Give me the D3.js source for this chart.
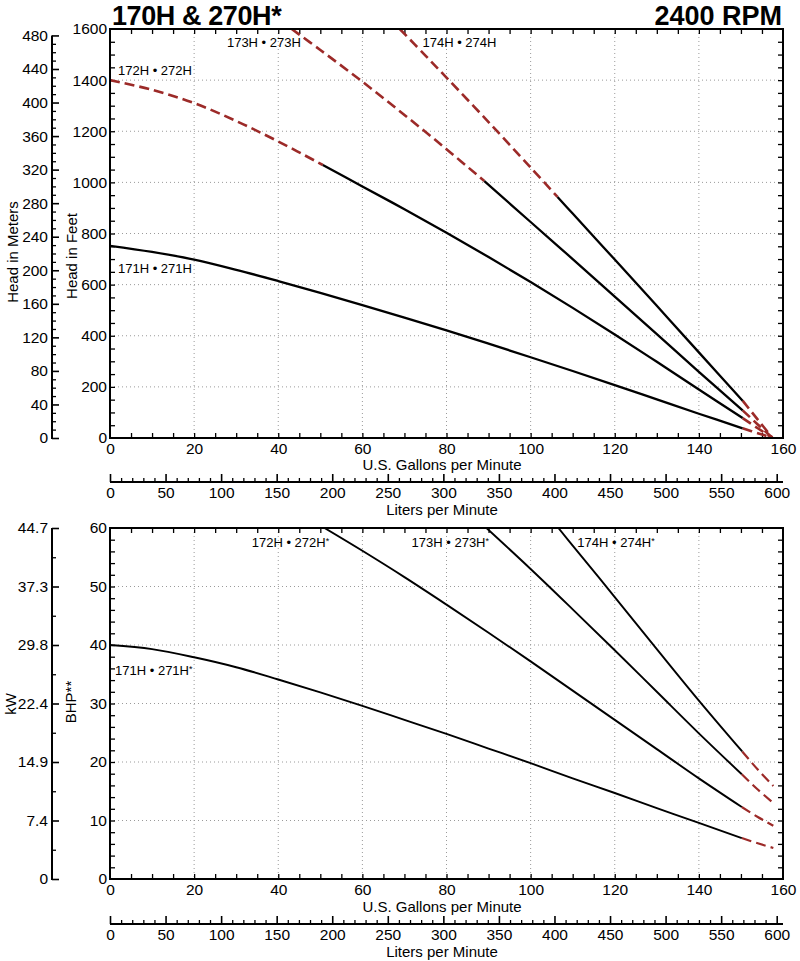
<!DOCTYPE html>
<html><head><meta charset="utf-8">
<script src="https://cdn.jsdelivr.net/npm/d3@7"></script>
<style>
body{margin:0;background:#fff}
svg{display:block}
text{font-family:"Liberation Sans",Arial,Helvetica,sans-serif;fill:#000}
</style>
</head><body>
<svg id="c" width="800" height="961"></svg>
<script>
// ---------- data ----------
const gpmTicks = [0,20,40,60,80,100,120,140,160];
const literTicks = [0,50,100,150,200,250,300,350,400,450,500,550,600];
const feetTicks = [0,200,400,600,800,1000,1200,1400,1600];
const meterTicks = [0,40,80,120,160,200,240,280,320,360,400,440,480];
const bhpTicks = [0,10,20,30,40,50,60];
const kwTickLabels = ["0","7.4","14.9","22.4","29.8","37.3","44.7"];

const headModels = ["171H • 271H","172H • 272H","173H • 273H","174H • 274H"];
const bhpModels = ["171H • 271H","172H • 272H","173H • 273H","174H • 274H"];

// head curves [GPM, feet]
const head171 = [[0,752],[10,728],[20,698],[30,658],[40,614],[50,568],[60,520],[70,471],[80,421],[90,369],[100,316],[110,262],[120,207],[130,151],[140,95],[150.4,38],[154,19],[157.5,0]];
const head172 = [[0,1400],[10,1362],[20,1310],[30,1240],[40,1160],[50.6,1068],[60,984],[70,895],[80,803],[90,708],[100,610],[110,509],[120,405],[130,298],[140,190],[150.4,78],[154,38],[157.5,0]];
const head173 = [[43.2,1600],[50,1518],[60,1394],[70,1264],[80,1130],[89,1005],[100,845],[110,700],[120,553],[130,406],[140,259],[150.4,108],[154,53],[157.5,0]];
const head174 = [[68.9,1600],[75,1496],[80,1410],[90,1236],[100,1058],[106.4,943],[110,878],[120,698],[130,517],[140,335],[150.4,146],[154,72],[157.5,0]];
// solid (rated) GPM ranges for head curves
const headSolid = [[0,150.4],[50.6,150.4],[89,150.4],[106.4,150.4]];

// BHP curves [GPM, BHP]
const bhp171 = [[0,40],[10,39.3],[20,37.9],[30,36.2],[40,34.1],[50,31.9],[60,29.6],[70,27.2],[80,24.8],[90,22.3],[100,19.8],[110,17.2],[120,14.7],[130,12.1],[140,9.6],[150.2,7.0],[154,6.1],[157.7,5.3]];
const bhp172 = [[51,60],[60,56.1],[70,51.6],[80,46.9],[90,42.1],[100,37.2],[110,32.2],[120,27.2],[130,22.2],[140,17.2],[150.2,12.3],[154,10.6],[157.7,9.1]];
const bhp173 = [[89.5,60],[100,53.0],[110,46.1],[120,39.1],[130,32.0],[140,24.9],[150.2,17.9],[154,15.3],[157.7,13.0]];
const bhp174 = [[106.6,60],[110,57.0],[120,48.2],[130,39.3],[140,30.5],[150.3,21.8],[154,18.7],[157.7,15.9]];
const bhpSolid = [[0,150.2],[0,150.2],[0,150.2],[0,150.3]];

// ---------- layout ----------
const svg = d3.select("#c");
const RED = "#9c2a28";
const GPM_PER_L = 1/3.78541, FT_PER_M = 3.28084;
const x = d3.scaleLinear().domain([0,160]).range([110,783]);
const xL = d3.scaleLinear().domain([0,600]).range([x(0), x(600*GPM_PER_L)]);
const yH = d3.scaleLinear().domain([0,1600]).range([438,29]);
const yM = d3.scaleLinear().domain([0,1600/FT_PER_M]).range([438,29]);
const yB = d3.scaleLinear().domain([0,60]).range([879,528]);

const FONT_TICK = 15.5, FONT_TITLE = 15;

svg.append("text").attr("x",112).attr("y",25).attr("font-size",27).attr("font-weight","bold")
  .attr("letter-spacing","-0.4").text("170H & 270H*");
svg.append("text").attr("x",782).attr("y",25).attr("font-size",27).attr("font-weight","bold")
  .attr("text-anchor","end").text("2400 RPM");

function styleAxis(g, fs){
  g.selectAll("text").attr("font-size",fs).attr("font-family",'"Liberation Sans",Arial,Helvetica,sans-serif').attr("fill","#000");
  g.selectAll("line").attr("stroke","#000").attr("stroke-width",1.3);
  g.select(".domain").remove();
}
function range(a,b,s){const r=[];for(let v=a;v<=b+1e-9;v+=s)r.push(+v.toFixed(6));return r;}
const fmt = d3.format("d");

function panel(opts){
  const {y, yTicks, yMinor, gridY, curves, solids, labels, labelStar} = opts;
  const top = y.range()[1], bot = y.range()[0], L = x.range()[0], R = x.range()[1];
  const clipId = "clip"+Math.round(top);
  svg.append("clipPath").attr("id",clipId).append("rect").attr("x",L).attr("y",top).attr("width",R-L).attr("height",bot-top);

  // grid
  const grid = svg.append("g").attr("stroke","#9a9a9a").attr("stroke-width",1).attr("stroke-dasharray","1,3");
  grid.selectAll(".gx").data(gpmTicks.filter(d=>d>0&&d<160)).enter().append("line")
    .attr("x1",d=>x(d)).attr("x2",d=>x(d)).attr("y1",top).attr("y2",bot);
  grid.selectAll(".gy").data(gridY).enter().append("line")
    .attr("y1",d=>y(d)).attr("y2",d=>y(d)).attr("x1",L).attr("x2",R);

  // inward minor ticks
  const xm = range(0,160,5).filter(d=>d>0&&d<160);
  styleAxis(svg.append("g").attr("transform",`translate(0,${bot})`).call(d3.axisTop(x).tickValues(xm).tickSize(5).tickFormat("")));
  styleAxis(svg.append("g").attr("transform",`translate(0,${top})`).call(d3.axisBottom(x).tickValues(xm).tickSize(5).tickFormat("")));
  styleAxis(svg.append("g").attr("transform",`translate(${L},0)`).call(d3.axisRight(y).tickValues(yMinor).tickSize(5).tickFormat("")));
  styleAxis(svg.append("g").attr("transform",`translate(${R},0)`).call(d3.axisLeft(y).tickValues(yMinor).tickSize(5).tickFormat("")));

  // tick labels
  styleAxis(svg.append("g").attr("transform",`translate(${L-3},0)`).call(d3.axisLeft(y).tickValues(yTicks).tickSize(0).tickPadding(0).tickFormat(fmt)), FONT_TICK);
  styleAxis(svg.append("g").attr("transform",`translate(0,${bot+5})`).call(d3.axisBottom(x).tickValues(gpmTicks).tickSize(0).tickPadding(0).tickFormat(fmt)), FONT_TICK);

  // curves
  const line = d3.line().x(d=>x(d[0])).y(d=>y(d[1])).curve(d3.curveCatmullRom.alpha(0.5));
  const cg = svg.append("g").attr("clip-path",`url(#${clipId})`).attr("fill","none");
  curves.forEach((c,i)=>{
    const [s0,s1] = solids[i];
    const pre = c.filter(p=>p[0]<=s0), mid = c.filter(p=>p[0]>=s0&&p[0]<=s1), post = c.filter(p=>p[0]>=s1);
    [pre,post].forEach(seg=>{ if(seg.length>1) cg.append("path").attr("d",line(seg)).attr("stroke",RED).attr("stroke-width",opts.dashW).attr("stroke-dasharray","10,5"); });
    if(mid.length>1) cg.append("path").attr("d",line(mid)).attr("stroke","#000").attr("stroke-width",opts.solidW);
  });

  // frame
  svg.append("rect").attr("x",L).attr("y",top).attr("width",R-L).attr("height",bot-top)
    .attr("fill","none").attr("stroke","#000").attr("stroke-width",2);

  // curve labels
  labels.forEach(l=>{
    const t = svg.append("text").attr("x",x(l.gx)).attr("y",y(l.gy)).attr("font-size",13).text(l.text);
    if(labelStar) t.append("tspan").attr("font-size",9).attr("dy",-3).text("*");
  });

  // gallons title
  svg.append("text").attr("x",442).attr("y",opts.gpmTitleY).attr("text-anchor","middle").attr("font-size",FONT_TITLE).text("U.S. Gallons per Minute");

  // liters axis
  const ly = opts.litersY;
  svg.append("line").attr("x1",L).attr("x2",R).attr("y1",ly).attr("y2",ly).attr("stroke","#000").attr("stroke-width",2);
  styleAxis(svg.append("g").attr("transform",`translate(0,${ly})`).call(d3.axisTop(xL).tickValues(range(0,600,10).filter(d=>d%50)).tickSize(4).tickFormat("")));
  const lg = svg.append("g").attr("transform",`translate(0,${ly})`).call(d3.axisTop(xL).tickValues(literTicks).tickSize(8).tickFormat(""));
  styleAxis(lg); lg.selectAll("line").attr("stroke-width",1.6);
  styleAxis(svg.append("g").attr("transform",`translate(0,${ly+5})`).call(d3.axisBottom(xL).tickValues(literTicks).tickSize(0).tickPadding(0).tickFormat(fmt)), FONT_TICK);
  svg.append("text").attr("x",442).attr("y",ly+33).attr("text-anchor","middle").attr("font-size",FONT_TITLE).text("Liters per Minute");
}

// ----- top panel -----
panel({
  y: yH, yTicks: feetTicks, yMinor: range(50,1550,50), gridY: feetTicks.filter(d=>d>0&&d<1600),
  curves: [head171,head172,head173,head174], solids: headSolid, solidW: 2.3, dashW: 2.6,
  labels: [
    {text: headModels[0], gx: 1.9, gy: 645},
    {text: headModels[1], gx: 1.9, gy: 1420},
    {text: headModels[2], gx: 27.8, gy: 1530},
    {text: headModels[3], gx: 74.3, gy: 1530}
  ],
  labelStar:false, gpmTitleY: 470, litersY: 482
});

// meters axis
{
  const AX = 52;
  svg.append("line").attr("x1",AX).attr("x2",AX).attr("y1",yM(0)+1).attr("y2",yM(480)).attr("stroke","#000").attr("stroke-width",2);
  const gmin = svg.append("g").attr("transform",`translate(${AX},0)`).call(d3.axisRight(yM).tickValues(range(0,480,10).filter(d=>d%40)).tickSize(4).tickFormat(""));
  styleAxis(gmin);
  const gmaj = svg.append("g").attr("transform",`translate(${AX},0)`).call(d3.axisLeft(yM).tickValues(meterTicks).tickSize(-7).tickPadding(4).tickFormat(fmt));
  styleAxis(gmaj, FONT_TICK); gmaj.selectAll("line").attr("stroke-width",1.6);
}
svg.append("text").attr("transform","translate(18,252) rotate(-90)").attr("text-anchor","middle").attr("font-size",FONT_TITLE).text("Head in Meters");
svg.append("text").attr("transform","translate(77,256) rotate(-90)").attr("text-anchor","middle").attr("font-size",FONT_TITLE).text("Head in Feet");

// ----- bottom panel -----
panel({
  y: yB, yTicks: bhpTicks, yMinor: range(2,58,2), gridY: bhpTicks.filter(d=>d>0&&d<60),
  curves: [bhp171,bhp172,bhp173,bhp174], solids: bhpSolid, solidW: 1.9, dashW: 2.2,
  labels: [
    {text: bhpModels[0], gx: 1.2, gy: 34.9},
    {text: bhpModels[1], gx: 33.7, gy: 56.75},
    {text: bhpModels[2], gx: 71.7, gy: 56.75},
    {text: bhpModels[3], gx: 111.1, gy: 56.75}
  ],
  labelStar:true, gpmTitleY: 912, litersY: 924
});

// kW axis
{
  const AX = 52;
  const yK = d3.scaleLinear().domain([0,60]).range(yB.range());
  svg.append("line").attr("x1",AX).attr("x2",AX).attr("y1",yB(0)+1).attr("y2",yB(60)).attr("stroke","#000").attr("stroke-width",2);
  styleAxis(svg.append("g").attr("transform",`translate(${AX},0)`).call(d3.axisRight(yK).tickValues([5,15,25,35,45,55]).tickSize(4).tickFormat("")));
  const gk = svg.append("g").attr("transform",`translate(${AX},0)`).call(d3.axisLeft(yK).tickValues(bhpTicks).tickSize(-7).tickPadding(4).tickFormat((d,i)=>kwTickLabels[i]));
  styleAxis(gk, FONT_TICK); gk.selectAll("line").attr("stroke-width",1.6);
}
svg.append("text").attr("transform","translate(16,704) rotate(-90)").attr("text-anchor","middle").attr("font-size",FONT_TITLE).text("kW");
svg.append("text").attr("transform","translate(76,702) rotate(-90)").attr("text-anchor","middle").attr("font-size",FONT_TITLE).text("BHP**");
</script>
</body></html>
